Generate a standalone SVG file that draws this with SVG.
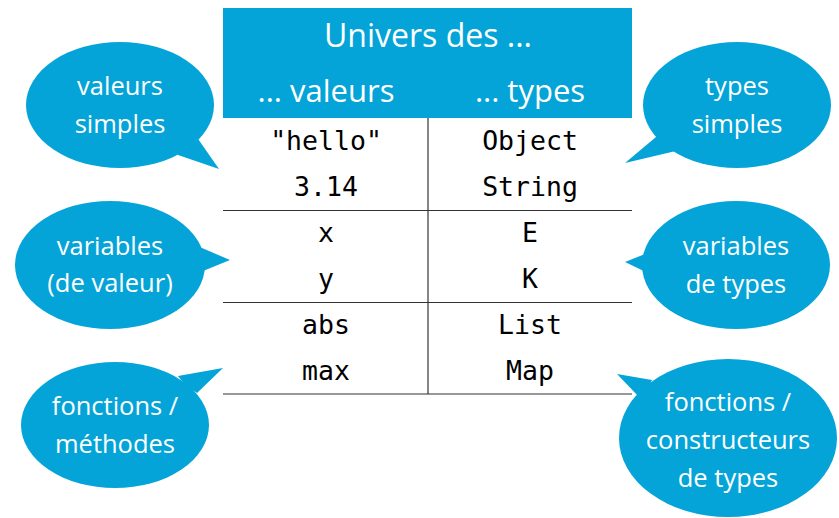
<svg xmlns="http://www.w3.org/2000/svg" width="839" height="518" viewBox="0 0 839 518">
<style>
.bub{fill:#04a4d8}
.bt{fill:#fff;font-family:"Open Sans","Lato",sans-serif;font-size:25.5px;text-anchor:middle}
.ht{fill:#fff;font-family:"Open Sans","Lato",sans-serif;font-size:31px;text-anchor:middle}
.mono{fill:#000;font-family:"DejaVu Sans Mono","Liberation Mono",monospace;font-size:26.5px;text-anchor:middle}
.ln{stroke:#333;stroke-width:1.2;fill:none}
</style>
<rect width="839" height="518" fill="#fff"/>
<g id="table">
<rect x="223" y="8" width="409" height="110" fill="#04a4d8"/>
<text class="ht" x="428" y="47" style="font-size:32px">Univers des ...</text>
<text class="ht" x="326" y="102">... valeurs</text>
<text class="ht" x="530" y="102">... types</text>
<g class="ln">
<line x1="428" y1="118" x2="428" y2="394"/>
<line x1="223" y1="210.5" x2="632" y2="210.5"/>
<line x1="223" y1="302.5" x2="632" y2="302.5"/>
<line x1="223" y1="394" x2="632" y2="394"/>
</g>
<text class="mono" x="326" y="150">"hello"</text>
<text class="mono" x="326" y="196">3.14</text>
<text class="mono" x="326" y="242">x</text>
<text class="mono" x="326" y="288">y</text>
<text class="mono" x="326" y="334">abs</text>
<text class="mono" x="326" y="380">max</text>
<text class="mono" x="530" y="150">Object</text>
<text class="mono" x="530" y="196">String</text>
<text class="mono" x="530" y="242">E</text>
<text class="mono" x="530" y="288">K</text>
<text class="mono" x="530" y="334">List</text>
<text class="mono" x="530" y="380">Map</text>
</g>
<g id="b1">
<ellipse class="bub" cx="120" cy="105" rx="94" ry="63"/>
<polygon class="bub" points="176,140 196,136 219,169 178,155"/>
<text class="bt" x="120" y="95">valeurs</text>
<text class="bt" x="120" y="133">simples</text>
</g>
<g id="b2">
<ellipse class="bub" cx="737" cy="105" rx="94" ry="63"/>
<polygon class="bub" points="660,130 680,150 625,163 656,137"/>
<text class="bt" x="737" y="95">types</text>
<text class="bt" x="737" y="133">simples</text>
</g>
<g id="b3">
<ellipse class="bub" cx="110" cy="265" rx="95" ry="64"/>
<polygon class="bub" points="195,245 230,260 203,271 200,255"/>
<text class="bt" x="110" y="255">variables</text>
<text class="bt" x="110" y="292">(de valeur)</text>
</g>
<g id="b4">
<ellipse class="bub" cx="736" cy="265" rx="94" ry="64"/>
<polygon class="bub" points="660,248 625,262 652,275 650,258"/>
<text class="bt" x="736" y="255">variables</text>
<text class="bt" x="736" y="293">de types</text>
</g>
<g id="b5">
<ellipse class="bub" cx="115" cy="425" rx="94" ry="63"/>
<polygon class="bub" points="178,376 223,368 197,393 185,385"/>
<text class="bt" x="115" y="415">fonctions /</text>
<text class="bt" x="115" y="453">méthodes</text>
</g>
<g id="b6">
<ellipse class="bub" cx="728" cy="438" rx="109" ry="79"/>
<polygon class="bub" points="652,380 617,374 640,398 646,392"/>
<text class="bt" x="728" y="411">fonctions /</text>
<text class="bt" x="728" y="449">constructeurs</text>
<text class="bt" x="728" y="487">de types</text>
</g>
</svg>
